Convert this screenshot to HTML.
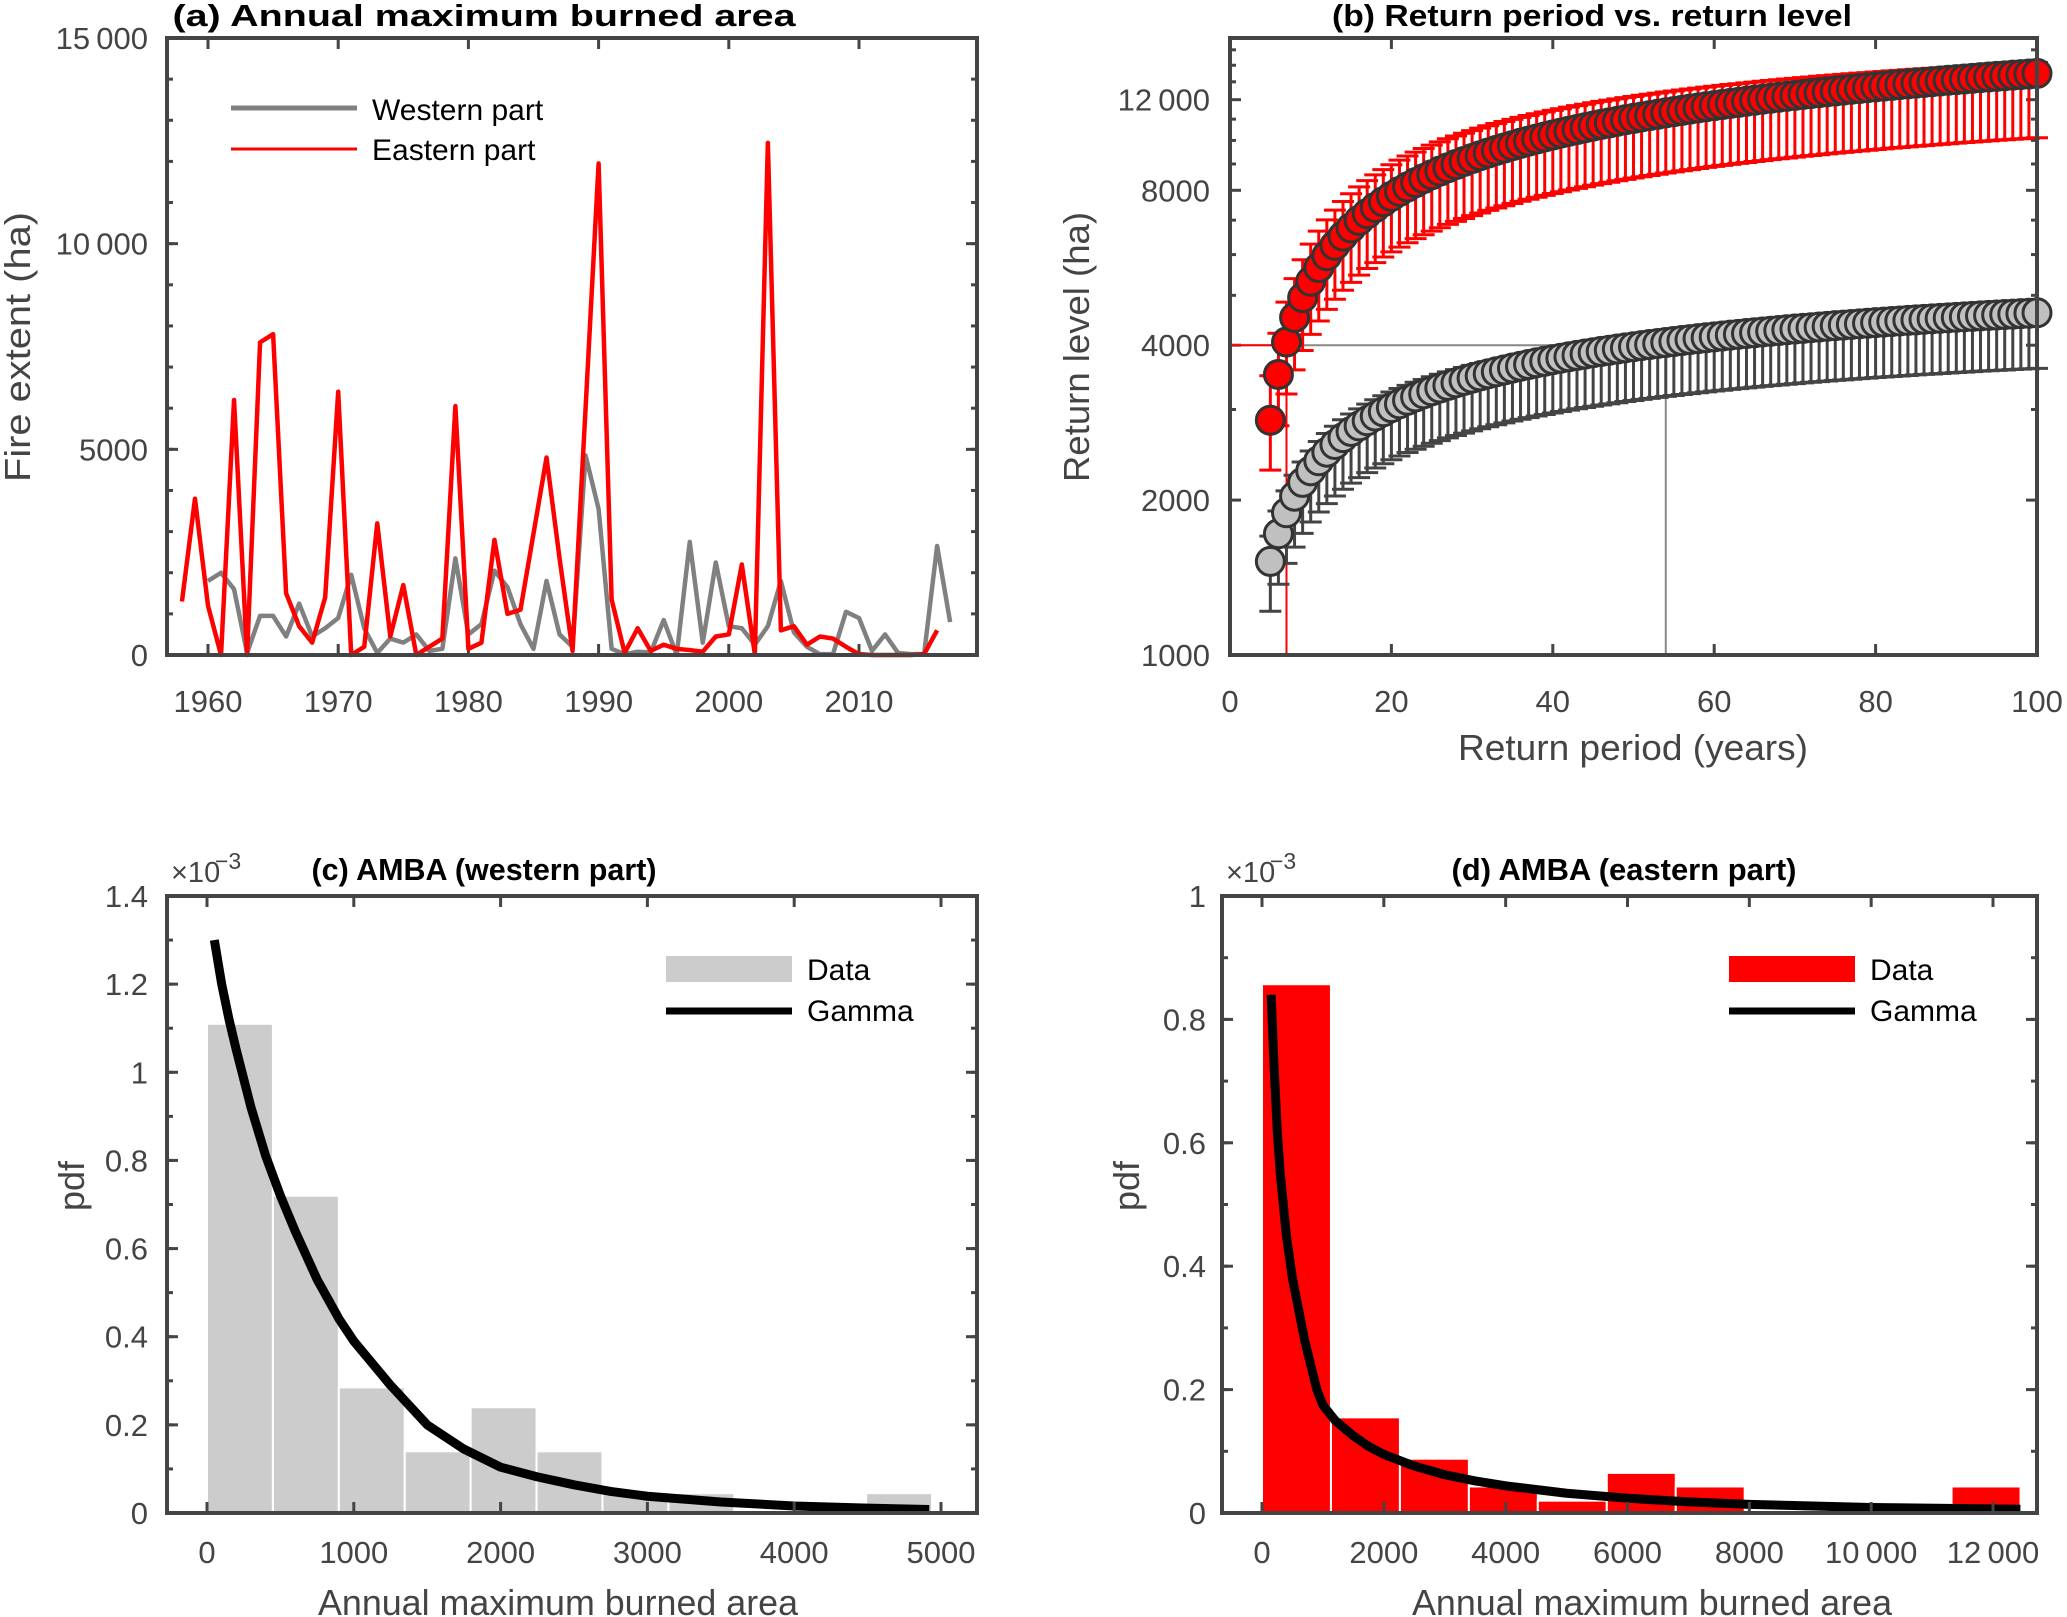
<!DOCTYPE html>
<html><head><meta charset="utf-8">
<style>
html,body{margin:0;padding:0;background:#fff;}
svg{display:block;font-family:"Liberation Sans",Arial,sans-serif;}
</style></head>
<body>
<svg id="fig" width="2067" height="1617" viewBox="0 0 2067 1617" xmlns="http://www.w3.org/2000/svg"></svg>
<script>
// ---------- Panel (a) data ----------
const yearsW = [1960,1961,1962,1963,1964,1965,1966,1967,1968,1969,1970,1971,1972,1973,1974,1975,1976,1977,1978,1979,1980,1981,1982,1983,1984,1985,1986,1987,1988,1989,1990,1991,1992,1993,1994,1995,1996,1997,1998,1999,2000,2001,2002,2003,2004,2005,2006,2007,2008,2009,2010,2011,2012,2013,2014,2015,2016,2017];
const western = [1800,2000,1600,50,950,950,450,1250,450,650,900,1950,650,50,400,300,500,100,150,2350,500,750,2050,1650,750,150,1800,500,200,4850,3550,150,20,80,60,850,0,2750,300,2250,700,650,250,700,1800,550,200,20,20,1050,900,100,500,50,20,20,2650,800];
const yearsE = [1958,1959,1960,1961,1962,1963,1964,1965,1966,1967,1968,1969,1970,1971,1972,1973,1974,1975,1976,1977,1978,1979,1980,1981,1982,1983,1984,1985,1986,1987,1988,1989,1990,1991,1992,1993,1994,1995,1996,1997,1998,1999,2000,2001,2002,2003,2004,2005,2006,2007,2008,2009,2010,2011,2012,2013,2014,2015,2016];
const eastern = [1300,3800,1200,0,6200,0,7600,7800,1500,700,300,1400,6400,0,200,3200,450,1700,0,200,400,6050,150,300,2800,1000,1100,2950,4800,2350,100,6000,11950,1350,50,650,100,250,150,120,80,450,500,2200,20,12450,600,700,250,450,400,200,20,0,0,0,0,20,600];
const aYTicks = [0,5000,10000,15000];
const aYTickLabels = ["0","5000","10\u2009000","15\u2009000"];
const aXTicks = [1960,1970,1980,1990,2000,2010];

// ---------- Panel (b) data ----------
const returnPeriods = [5,6,7,8,9,10,11,12,13,14,15,16,17,18,19,20,21,22,23,24,25,26,27,28,29,30,31,32,33,34,35,36,37,38,39,40,41,42,43,44,45,46,47,48,49,50,51,52,53,54,55,56,57,58,59,60,61,62,63,64,65,66,67,68,69,70,71,72,73,74,75,76,77,78,79,80,81,82,83,84,85,86,87,88,89,90,91,92,93,94,95,96,97,98,99,100];
const levelEast = [2859,3509,4057,4528,4947,5324,5661,5970,6254,6518,6762,6992,7206,7408,7600,7784,7959,8122,8279,8431,8577,8715,8850,8977,9102,9223,9340,9454,9564,9667,9770,9872,9969,10064,10156,10245,10334,10420,10502,10583,10664,10743,10818,10892,10967,11038,11108,11176,11243,11311,11375,11438,11503,11564,11627,11684,11744,11802,11857,11914,11968,12025,12078,12132,12181,12230,12284,12333,12381,12430,12476,12525,12571,12617,12660,12706,12749,12795,12838,12880,12923,12963,13005,13044,13087,13125,13165,13204,13243,13279,13317,13353,13392,13428,13463,13498];
const levelWest = [1520,1720,1890,2035,2165,2280,2385,2478,2565,2645,2719,2788,2852,2913,2970,3025,3077,3126,3173,3218,3261,3302,3342,3380,3417,3452,3486,3519,3551,3582,3612,3641,3669,3697,3723,3749,3774,3798,3822,3845,3868,3890,3911,3932,3953,3973,3993,4012,4031,4049,4067,4085,4102,4119,4136,4152,4168,4184,4199,4214,4229,4244,4258,4272,4286,4300,4313,4326,4339,4352,4365,4377,4389,4401,4413,4425,4436,4447,4458,4469,4480,4491,4501,4511,4521,4531,4541,4551,4561,4570,4579,4588,4597,4606,4615,4624];
const ciEastLow = [0.80, 0.75];
const ciEastHigh = [1.22, 1.05];
const ciWestLow = [0.80, 0.78];
const ciWestHigh = [1.12, 1.0];
const bXTicks = [0,20,40,60,80,100];
const bYTicks = [1000,2000,4000,8000,12000];
const bYTickLabels = ["1000","2000","4000","8000","12\u2009000"];
const bYMinor = [3000,5000,6000,7000,9000,10000,11000,13000,14000,15000];
const refLevel = 4000, refPeriodEast = 7, refPeriodWest = 54;

// ---------- Panel (c) data ----------
const histCEdges = [0,449,898,1347,1796,2245,2694,3143,3592,4041,4490,4939];
const histCValues = [1.11,0.72,0.285,0.14,0.24,0.14,0.045,0.045,0,0,0.045];
const gammaCX = [50,100,150,200,300,400,500,600,750,900,1000,1250,1500,1750,2000,2250,2500,2750,3000,3500,4000,4500,4920];
const gammaCY = [1.30,1.20,1.12,1.05,0.92,0.81,0.72,0.64,0.53,0.44,0.39,0.29,0.20,0.145,0.104,0.082,0.064,0.049,0.038,0.025,0.016,0.011,0.008];
const cXTicks = [0,1000,2000,3000,4000,5000];
const cYTicks = [0,0.2,0.4,0.6,0.8,1,1.2,1.4];

// ---------- Panel (d) data ----------
const histDEdges = [0,1132,2264,3396,4528,5660,6792,7924,9056,10188,11320,12452];
const histDValues = [0.857,0.155,0.088,0.043,0.02,0.065,0.043,0,0,0,0.043];
const gammaDX = [150,200,250,300,400,500,600,700,800,900,1000,1200,1500,1750,2000,2500,3000,3500,4000,5000,6000,7000,8000,10000,12450];
const gammaDY = [0.84,0.72,0.62,0.55,0.45,0.38,0.33,0.28,0.24,0.20,0.175,0.150,0.125,0.108,0.095,0.076,0.062,0.052,0.044,0.032,0.024,0.018,0.014,0.009,0.006];
const dXTicks = [0,2000,4000,6000,8000,10000,12000];
const dXTickLabels = ["0","2000","4000","6000","8000","10\u2009000","12\u2009000"];
const dYTicks = [0,0.2,0.4,0.6,0.8,1];

const svg = document.getElementById('fig');
const NS = 'http://www.w3.org/2000/svg';
const AX = '#444';
function mk(tag, attrs, parent){
  const e = document.createElementNS(NS, tag);
  for (const k in attrs) e.setAttribute(k, attrs[k]);
  (parent||svg).appendChild(e);
  return e;
}
function txt(str, attrs, parent){ const e = mk('text', attrs, parent); e.textContent = str; return e; }
function lin(d0,d1,r0,r1){ return v => r0 + (v-d0)/(d1-d0)*(r1-r0); }

function frame(g, L,R,T,B){
  const f = mk('rect',{x:L,y:T,width:R-L,height:B-T,fill:'none',stroke:AX,'stroke-width':4},g);
  
  
}
function xTick(g,x,T,B,len){ mk('line',{x1:x,x2:x,y1:B,y2:B-len,stroke:AX,'stroke-width':3},g); mk('line',{x1:x,x2:x,y1:T,y2:T+len,stroke:AX,'stroke-width':3},g); }
function yTick(g,y,L,R,len){ mk('line',{x1:L,x2:L+len,y1:y,y2:y,stroke:AX,'stroke-width':3},g); mk('line',{x1:R,x2:R-len,y1:y,y2:y,stroke:AX,'stroke-width':3},g); }
function tickLabel(g,str,x,y,anchor,name){
  const t = txt(str,{x:x,y:y,'text-anchor':anchor,'font-size':31,fill:'#444'},g);
  
  
}
function title(str,cx,y,w){
  const t = txt(str,{x:cx,y:y,'text-anchor':'middle','font-size':31,'font-weight':'bold',fill:'#000',textLength:w,lengthAdjust:'spacingAndGlyphs'});
  
  
}
function axisLabel(str,x,y,rot,w,name){
  const t = txt(str,{x:x,y:y,'text-anchor':'middle','font-size':36,fill:'#444',transform:rot?`rotate(-90 ${x} ${y})`:'',textLength:w,lengthAdjust:'spacingAndGlyphs'});
  
  
}

// ================= Panel A =================
(function(){
  const L=167,R=977,T=38,B=655;
  const g = mk('g',{});
  
  
  const sx = lin(1960,2010,208,859), sy = lin(0,15000,B,T);
  for (let v=1000; v<15000; v+=1000) yTick(g,sy(v),L,R,6);
  aYTicks.forEach((v,i)=>{ yTick(g,sy(v),L,R,11); tickLabel(g,aYTickLabels[i],148,sy(v)+11,'end','y-tick-label'); });
  aXTicks.forEach(v=>{ xTick(g,sx(v),T,B,11); tickLabel(g,String(v),sx(v),712,'middle','x-tick-label'); });
  const pw = mk('polyline',{points:yearsW.map((y,i)=>sx(y)+','+sy(western[i])).join(' '),fill:'none',stroke:'#808080','stroke-width':4.5,'stroke-linejoin':'round'},g);
  
  
  const pe = mk('polyline',{points:yearsE.map((y,i)=>sx(y)+','+sy(eastern[i])).join(' '),fill:'none',stroke:'#ff0000','stroke-width':4.5,'stroke-linejoin':'round'},g);
  
  
  frame(g,L,R,T,B);
  const lg = mk('g',{},g);
  
  
  mk('line',{x1:231,x2:357,y1:108,y2:108,stroke:'#808080','stroke-width':5},lg);
  const l1 = txt('Western part',{x:372,y:120,'font-size':30,fill:'#000'},lg);
  
  
  mk('line',{x1:231,x2:357,y1:149,y2:149,stroke:'#ff0000','stroke-width':3},lg);
  const l2 = txt('Eastern part',{x:372,y:160,'font-size':30,fill:'#000'},lg);
  
  
  title('(a) Annual maximum burned area',484,26,623);
  axisLabel('Fire extent (ha)',30,347,true,270,'y-axis-title');
})();

// ================= Panel B =================
(function(){
  const L=1230,R=2037,T=38,B=655;
  const g = mk('g',{});
  
  
  const sx = lin(0,100,L,R);
  const perDbl = 154.9;
  const sy = v => B - Math.log2(v/1000)*perDbl;
  bYMinor.forEach(v=>{ if (sy(v)>T) yTick(g,sy(v),L,R,6); });
  bYTicks.forEach((v,i)=>{ yTick(g,sy(v),L,R,11); tickLabel(g,bYTickLabels[i],1210,sy(v)+11,'end','y-tick-label'); });
  bXTicks.forEach(v=>{ xTick(g,sx(v),T,B,11); tickLabel(g,String(v),sx(v),712,'middle','x-tick-label'); });
  mk('line',{x1:sx(0),x2:sx(refPeriodWest),y1:sy(refLevel),y2:sy(refLevel),stroke:'#888','stroke-width':2},g);
  mk('line',{x1:sx(refPeriodWest),x2:sx(refPeriodWest),y1:sy(refLevel),y2:B,stroke:'#888','stroke-width':2},g);
  mk('line',{x1:sx(0),x2:sx(refPeriodEast),y1:sy(refLevel),y2:sy(refLevel),stroke:'#ff0000','stroke-width':2},g);
  mk('line',{x1:sx(refPeriodEast),x2:sx(refPeriodEast),y1:sy(refLevel),y2:B,stroke:'#ff0000','stroke-width':2},g);
  const n = returnPeriods.length;
  function series(levels, lowR, highR, col, fill, name){
    const eg = mk('g',{},g);
    
    
    levels.forEach((v,i)=>{
      const f = Math.sqrt(i/(n-1));
      const lo = v*(lowR[0]+(lowR[1]-lowR[0])*f), hi = v*(highR[0]+(highR[1]-highR[0])*f);
      const x = sx(returnPeriods[i]);
      mk('line',{x1:x,x2:x,y1:sy(lo),y2:sy(hi),stroke:col,'stroke-width':3},eg);
      mk('line',{x1:x-11,x2:x+11,y1:sy(lo),y2:sy(lo),stroke:col,'stroke-width':3},eg);
      mk('line',{x1:x-11,x2:x+11,y1:sy(hi),y2:sy(hi),stroke:col,'stroke-width':3},eg);
    });
    const mg = mk('g',{},g);
    
    
    levels.forEach((v,i)=>{
      const c = mk('circle',{cx:sx(returnPeriods[i]),cy:sy(v),r:14,fill:fill,stroke:'#333','stroke-width':3},mg);
      
      
    });
  }
  series(levelWest, ciWestLow, ciWestHigh, '#444', '#c0c0c0', 'western');
  series(levelEast, ciEastLow, ciEastHigh, '#ff0000', '#ff0000', 'eastern');
  frame(g,L,R,T,B);
  title('(b) Return period vs. return level',1592,26,520);
  axisLabel('Return level (ha)',1089,347,true,270,'y-axis-title');
  axisLabel('Return period (years)',1633,760,false,350,'x-axis-title');
})();

// ================= Histograms =================
function histPanel(o){
  const g = mk('g',{});
  
  
  const {L,R,T,B} = o;
  const sx = lin(o.x0,o.x1,o.px0,o.px1), sy = lin(0,o.ymax,B,T);
  o.edges.slice(0,-1).forEach((e,i)=>{
    if (o.values[i] <= 0) return;
    const r = mk('rect',{x:sx(e),y:sy(o.values[i]),width:sx(o.edges[i+1])-sx(e),height:B-sy(o.values[i]),fill:o.color,stroke:'#fff','stroke-width':2},g);
    
    
  });
  const p = mk('polyline',{points:o.gx.map((x,i)=>sx(x)+','+sy(o.gy[i])).join(' '),fill:'none',stroke:'#000','stroke-width':9,'stroke-linejoin':'round'},g);
  
  
  for (let v=o.yminor; v<o.ymax-1e-9; v+=o.yminor) yTick(g,sy(v),L,R,6);
  o.yticks.forEach(v=>{ yTick(g,sy(v),L,R,11); tickLabel(g,String(+v.toFixed(1)),o.ylabX,sy(v)+11,'end','y-tick-label'); });
  o.xticks.forEach((v,i)=>{ xTick(g,sx(v),T,B,11); tickLabel(g,o.xlabels[i],sx(v),1563,'middle','x-tick-label'); });
  frame(g,L,R,T,B);
  const ex = txt('\u00d710',{x:L+4,y:882,'font-size':29,fill:'#444'},g);
  
  
  const ex2 = txt('\u22123',{x:L+48,y:869,'font-size':23,fill:'#444'},g);
  
  
  const lg = mk('g',{},g);
  
  
  mk('rect',{x:o.lgx,y:956,width:126,height:26,fill:o.color},lg);
  const t1 = txt('Data',{x:o.lgx+141,y:980,'font-size':30,fill:'#000'},lg);
  
  
  mk('line',{x1:o.lgx,x2:o.lgx+126,y1:1011,y2:1011,stroke:'#000','stroke-width':7},lg);
  const t2 = txt('Gamma',{x:o.lgx+141,y:1021,'font-size':30,fill:'#000'},lg);
  
  
  title(o.title,o.tcx,880,o.tw);
  axisLabel('pdf',o.pdfX,1186,true,50,'y-axis-title');
  axisLabel('Annual maximum burned area',o.xlc,1615,false,480,'x-axis-title');
}
histPanel({name:'panel-c',L:167,R:977,T:896,B:1513,x0:0,x1:5000,px0:207,px1:941,ymax:1.4,
  edges:histCEdges,values:histCValues,gx:gammaCX,gy:gammaCY,color:'#cccccc',
  yticks:cYTicks,yminor:0.1,ylabX:148,xticks:cXTicks,xlabels:cXTicks.map(String),
  lgx:666,title:'(c) AMBA (western part)',tcx:484,tw:345,pdfX:84,xlc:558});
histPanel({name:'panel-d',L:1222,R:2037,T:896,B:1513,x0:0,x1:12000,px0:1262,px1:1993,ymax:1,
  edges:histDEdges,values:histDValues,gx:gammaDX,gy:gammaDY,color:'#ff0000',
  yticks:dYTicks,yminor:0.1,ylabX:1206,xticks:dXTicks,xlabels:dXTickLabels,
  lgx:1729,title:'(d) AMBA (eastern part)',tcx:1624,tw:345,pdfX:1139,xlc:1652});
</script>
</body></html>
